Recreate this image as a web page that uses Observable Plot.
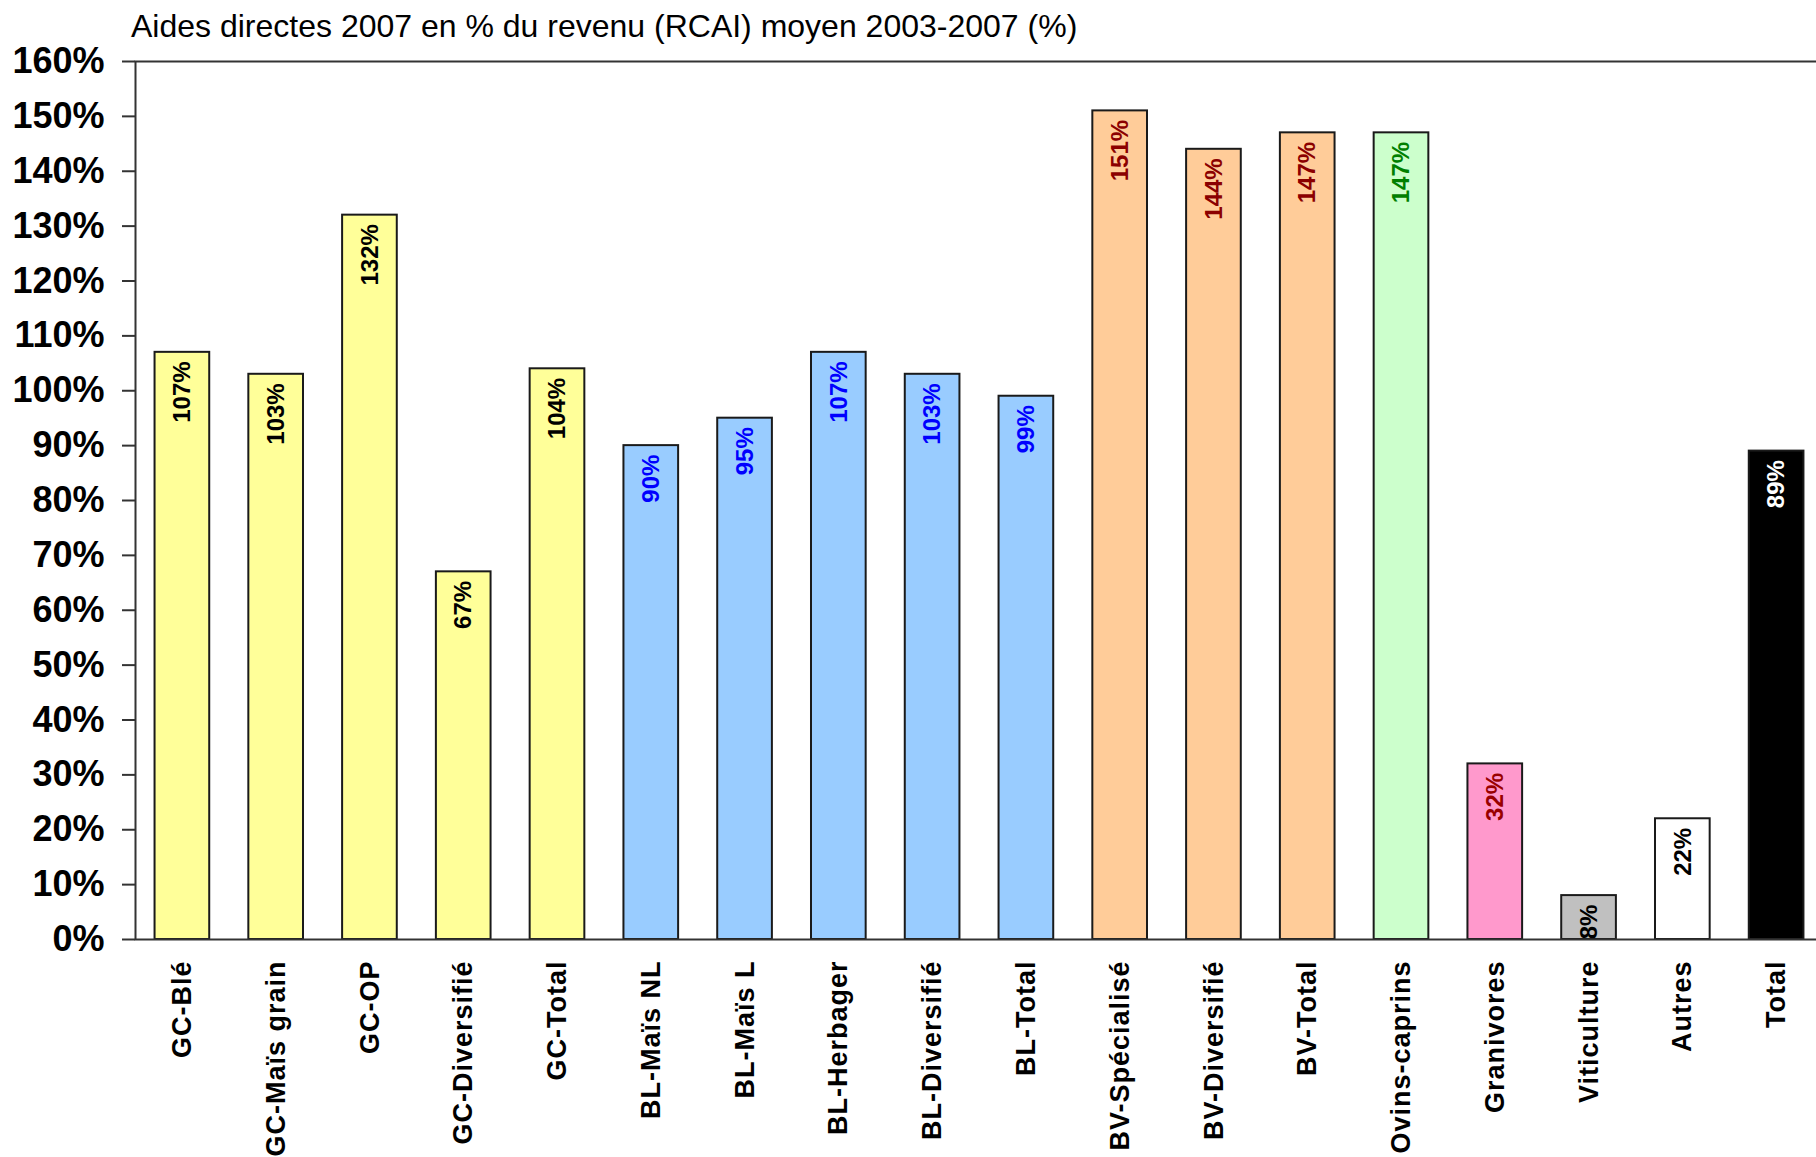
<!DOCTYPE html>
<html>
<head>
<meta charset="utf-8">
<script src="https://cdn.jsdelivr.net/npm/d3@7"></script>
<script src="https://cdn.jsdelivr.net/npm/@observablehq/plot@0.6"></script>
<style>
  body { margin: 0; background: #fff; }
  #title {
    font-family: "Liberation Sans", Arial, sans-serif;
    font-size: 32px; line-height: 32px;
    height: 20px; padding-top: 10px; padding-left: 131px;
    color: #000; white-space: nowrap; overflow: visible;
    position: relative; z-index: 1;
  }
  g[aria-label="x-axis tick label"] text { letter-spacing: 1px; }
</style>
</head>
<body>
<div id="title">Aides directes 2007 en % du revenu (RCAI) moyen 2003-2007 (%)</div>
<div id="chart"></div>
<script>
// ---- data ----
const categories = ["GC-Blé", "GC-Maïs grain", "GC-OP", "GC-Diversifié", "GC-Total",
  "BL-Maïs NL", "BL-Maïs L", "BL-Herbager", "BL-Diversifié", "BL-Total",
  "BV-Spécialisé", "BV-Diversifié", "BV-Total", "Ovins-caprins",
  "Granivores", "Viticulture", "Autres", "Total"];
const values = [107, 103, 132, 67, 104, 90, 95, 107, 103, 99, 151, 144, 147, 147, 32, 8, 22, 89];
const groups = ["GC", "GC", "GC", "GC", "GC", "BL", "BL", "BL", "BL", "BL",
  "BV", "BV", "BV", "OC", "GR", "VI", "AU", "TOT"];
const yTicks = [0, 10, 20, 30, 40, 50, 60, 70, 80, 90, 100, 110, 120, 130, 140, 150, 160];

// ---- styles ----
const fillByGroup = {GC: "#ffff99", BL: "#99ccff", BV: "#ffcc99", OC: "#ccffcc",
  GR: "#ff99cc", VI: "#c0c0c0", AU: "#ffffff", TOT: "#000000"};
const labelByGroup = {GC: "#000000", BL: "#0000ff", BV: "#8b0000", OC: "#008000",
  GR: "#990000", VI: "#000000", AU: "#000000", TOT: "#ffffff"};

const data = categories.map((c, i) => ({cat: c, val: values[i], grp: groups[i]}));

const chart = Plot.plot({
  width: 1816,
  height: 1127,
  marginTop: 31,
  marginBottom: 218,
  marginLeft: 135,
  marginRight: -7,
  style: {fontFamily: '"Liberation Sans", Arial, sans-serif', background: "transparent", color: "#000"},
  x: {domain: categories, paddingInner: 0.417, paddingOuter: 0.2085, round: false, label: null},
  y: {domain: [0, 160], label: null},
  color: {type: "identity"},
  marks: [
    Plot.barY(data, {x: "cat", y: "val", fill: d => fillByGroup[d.grp], stroke: "#1a1a1a", strokeWidth: 2}),
    Plot.text(data, {x: "cat", y: "val", text: d => d.val + "%", rotate: -90, textAnchor: "end",
      dy: 9, fill: d => labelByGroup[d.grp], fontSize: 24, fontWeight: "bold"}),
    Plot.frame({stroke: "#333", strokeWidth: 2}),
    Plot.axisY({ticks: yTicks, tickFormat: d => d + "%", tickSize: 13, tickPadding: 18,
      fontSize: 36, fontWeight: "bold", stroke: "#333", strokeWidth: 2, label: null}),
    Plot.axisX({tickSize: 0, tickPadding: 21, tickRotate: -90, fontSize: 27, fontWeight: "bold", label: null})
  ]
});
document.getElementById("chart").appendChild(chart);
</script>
</body>
</html>
